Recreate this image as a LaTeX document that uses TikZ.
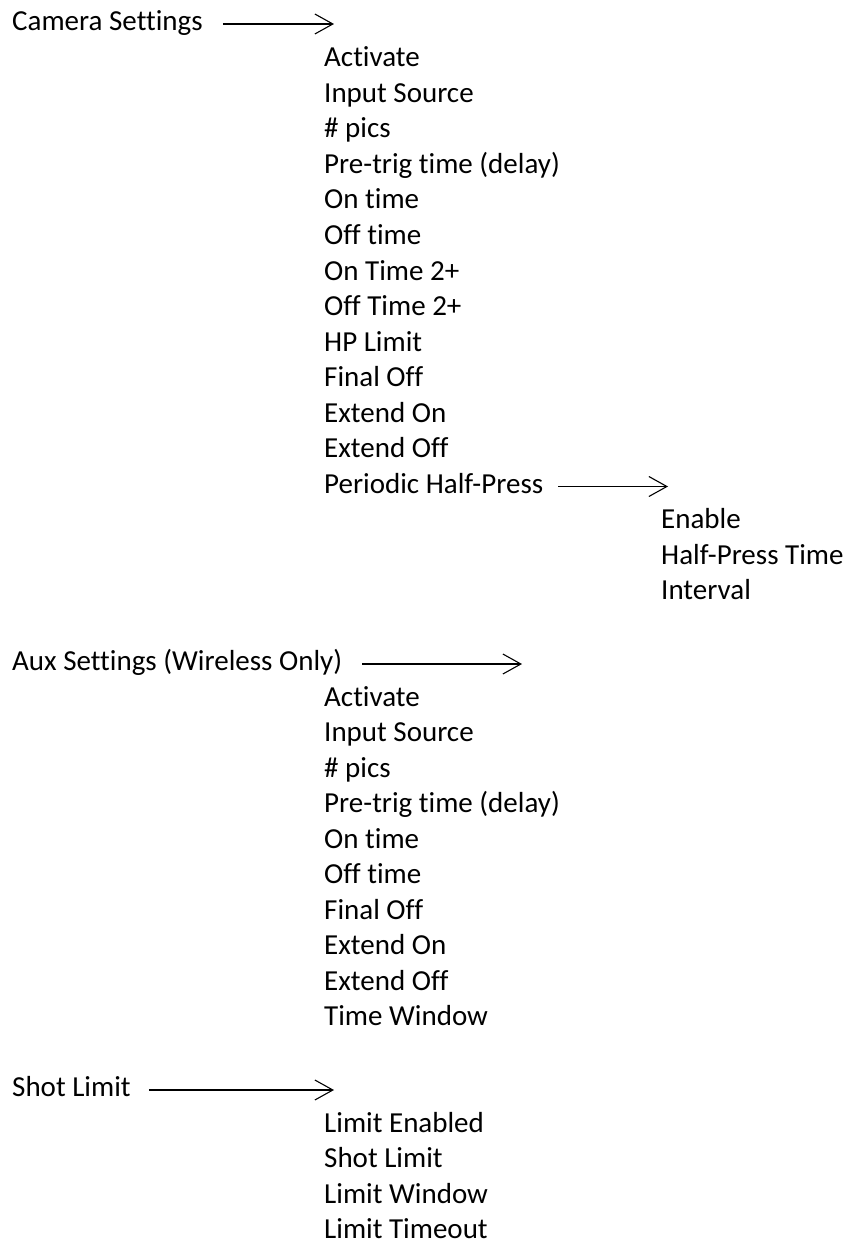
\documentclass[tikz,border=0pt]{standalone}
\usepackage{fontspec}
\setmainfont{Carlito}[Ligatures={NoCommon}]
\usetikzlibrary{arrows.meta}
\begin{document}
\begin{tikzpicture}[x=1pt,y=-1pt,
  lbl/.style={anchor=base west,inner sep=0pt,font=\fontsize{29}{35}\selectfont},
  conn/.style={line width=1.1pt,-{Straight Barb[length=18pt,width=20pt,line width=1.1pt]}}]
\useasboundingbox (0,0) rectangle (847,1249);
\def\rowy#1{67+35.5*((#1)-1)}
% column 1
\node[lbl] (cam) at (12,30.5) {Camera Settings};
\node[lbl] (aux) at (12,{\rowy{18}}) {Aux Settings (Wireless Only)};
\node[lbl] (shot) at (12,{\rowy{30}}) {Shot Limit};
% camera items
\foreach \t [count=\i] in {Activate,Input Source,\# pics,Pre-trig time (delay),On time,Off time,On Time 2+,Off Time 2+,HP Limit,Final Off,Extend On,Extend Off}
  \node[lbl] (c\i) at (324,{\rowy{\i}}) {\t};
\node[lbl] (per) at (324,{\rowy{13}}) {Periodic Half-Press};
\foreach \t [count=\i] in {Enable,Half-Press Time,Interval}
  \node[lbl] (p\i) at (661,{\rowy{13+\i}}) {\t};
% aux items
\foreach \t [count=\i] in {Activate,Input Source,\# pics,Pre-trig time (delay),On time,Off time,Final Off,Extend On,Extend Off,Time Window}
  \node[lbl] (a\i) at (324,{\rowy{18+\i}}) {\t};
% shot items
\foreach \t [count=\i] in {Limit Enabled,Shot Limit,Limit Window,Limit Timeout}
  \node[lbl] (s\i) at (324,{\rowy{30+\i}}) {\t};
% arrows
\coordinate (camE) at (334,24);
\coordinate (perE) at (668,486.5);
\coordinate (auxE) at (522,664);
\coordinate (shotE) at (334,1090);
\draw[conn] (cam.east |- camE) ++(20,0) -- (camE);
\draw[conn] (per.east |- perE) ++(15,0) -- (perE);
\draw[conn] (aux.east |- auxE) ++(20,0) -- (auxE);
\draw[conn] (shot.east |- shotE) ++(18,0) -- (shotE);
\end{tikzpicture}
\end{document}
